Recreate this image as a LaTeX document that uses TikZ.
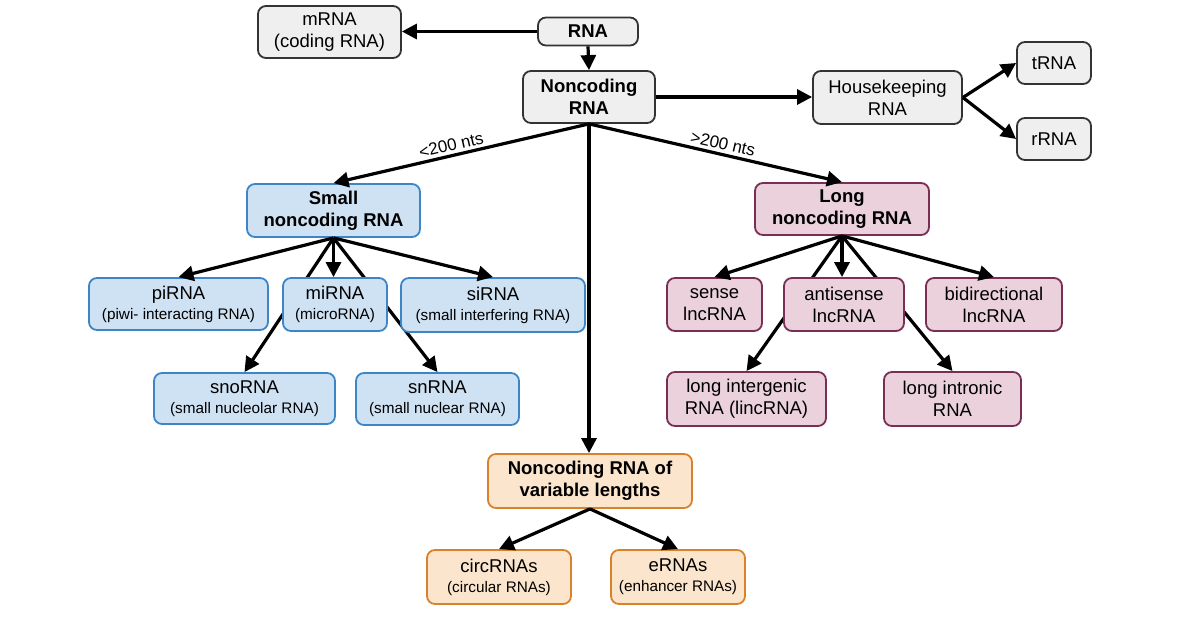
\documentclass[tikz,border=0pt]{standalone}
\usepackage{fontspec}
\setmainfont{Liberation Sans}
\usetikzlibrary{arrows.meta,backgrounds}
\definecolor{gfill}{HTML}{EFEFEF}
\definecolor{gline}{HTML}{333333}
\definecolor{bfill}{HTML}{CFE2F3}
\definecolor{bline}{HTML}{3D85C6}
\definecolor{pfill}{HTML}{EAD1DC}
\definecolor{pline}{HTML}{7A2E55}
\definecolor{ofill}{HTML}{FCE5CD}
\definecolor{oline}{HTML}{D9822B}
\tikzset{
  box/.style={draw=gline, fill=gfill, line width=1.8pt, rounded corners=8pt, align=center, inner sep=0pt, font=\fontsize{18.5}{22}\selectfont},
  bbox/.style={box, draw=bline, fill=bfill},
  pbox/.style={box, draw=pline, fill=pfill},
  obox/.style={box, draw=oline, fill=ofill},
  arr/.style={-{Triangle[length=15pt,width=15pt]}, line width=3.2pt, black},
  lbl/.style={font=\fontsize{17}{19}\selectfont, inner sep=3pt},
}
\newcommand{\subt}[1]{\\[-2pt]{\fontsize{15.3}{17}\selectfont #1}}
\begin{document}
\begin{tikzpicture}[x=1pt,y=-1pt]
\useasboundingbox (0,0) rectangle (1200,634);
% gray
\node[box, minimum width=143pt, minimum height=52pt] (mrna) at (329.5,32) {mRNA\\(coding RNA)};
\node[box, minimum width=100pt, minimum height=28pt, font=\fontsize{18.5}{22}\selectfont\bfseries] (rna) at (588,31.5) {RNA};
\node[box, minimum width=132pt, minimum height=52pt, font=\fontsize{18.5}{22}\selectfont\bfseries] (nc) at (589,97) {Noncoding\\RNA};
\node[box, minimum width=149pt, minimum height=53pt] (house) at (887.5,97.5) {Housekeeping\\RNA};
\node[box, minimum width=74pt, minimum height=42pt] (trna) at (1054,63) {tRNA};
\node[box, minimum width=74pt, minimum height=42pt] (rrna) at (1054,139) {rRNA};
% blue
\node[bbox, minimum width=173pt, minimum height=53pt, font=\fontsize{18.5}{22}\selectfont\bfseries] (small) at (333.5,210.5) {Small\\noncoding RNA};
\node[bbox, minimum width=179pt, minimum height=52pt] (pi) at (178.5,304) {piRNA\subt{(piwi- interacting RNA)}};
\node[bbox, minimum width=104pt, minimum height=53pt] (mi) at (335,304.5) {miRNA\subt{(microRNA)}};
\node[bbox, minimum width=184pt, minimum height=54pt] (si) at (493,305) {siRNA\subt{(small interfering RNA)}};
\node[bbox, minimum width=181pt, minimum height=51pt] (sno) at (244.5,398.5) {snoRNA\subt{(small nucleolar RNA)}};
\node[bbox, minimum width=163pt, minimum height=52pt] (sn) at (437.5,399) {snRNA\subt{(small nuclear RNA)}};
% pink
\node[pbox, minimum width=174pt, minimum height=52pt, font=\fontsize{18.5}{22}\selectfont\bfseries] (long) at (842,209) {Long\\noncoding RNA};
\node[pbox, minimum width=95pt, minimum height=53pt] (sense) at (714.5,304.5) {sense\\lncRNA};
\node[pbox, minimum width=120pt, minimum height=53pt] (anti) at (844,304.5) {antisense\\lncRNA};
\node[pbox, minimum width=136pt, minimum height=53pt] (bidir) at (994,304.5) {bidirectional\\lncRNA};
\node[pbox, minimum width=159pt, minimum height=54pt] (lint) at (746.5,399) {long intergenic\\RNA (lincRNA)};
\node[pbox, minimum width=137pt, minimum height=54pt] (lintr) at (952.5,399) {long intronic\\RNA};
% orange
\node[obox, minimum width=204pt, minimum height=54pt, font=\fontsize{18.5}{22}\selectfont\bfseries] (var) at (590,481) {Noncoding RNA of\\variable lengths};
\node[obox, minimum width=144pt, minimum height=54pt] (circ) at (499,577) {circRNAs\subt{(circular RNAs)}};
\node[obox, minimum width=134pt, minimum height=54pt] (erna) at (678,577) {eRNAs\subt{(enhancer RNAs)}};
% connectors
\draw[arr] (rna.west) -- (rna.west -| mrna.east);
\draw[arr] (rna.south) -- (nc.north);
\draw[arr] (nc.east) -- (nc.east -| house.west);
\draw[arr] (house.east) -- (trna.west);
\draw[arr] (house.east) -- (rrna.west);
\draw[arr] (nc.south) -- node[sloped, above, lbl, pos=0.53] {<200 nts} (small.north);
\draw[arr] (nc.south) -- node[sloped, above, lbl, pos=0.52] {>200 nts} (long.north);
\draw[arr] (nc.south) -- (nc.south |- var.north);
\draw[arr] (small.south) -- (pi.north);
\draw[arr] (small.south) -- (mi.north -| small.south);
\draw[arr] (small.south) -- (si.north);
\draw[arr] (long.south) -- (sense.north);
\draw[arr] (long.south) -- (anti.north -| long.south);
\draw[arr] (long.south) -- (bidir.north);
\draw[arr] (var.south) -- (circ.north);
\draw[arr] (var.south) -- (erna.north);
\begin{scope}[on background layer]
\draw[arr] (small.south) -- (sno.north);
\draw[arr] (small.south) -- (sn.north);
\draw[arr] (long.south) -- (lint.north);
\draw[arr] (long.south) -- (lintr.north);
\end{scope}
\end{tikzpicture}
\end{document}
